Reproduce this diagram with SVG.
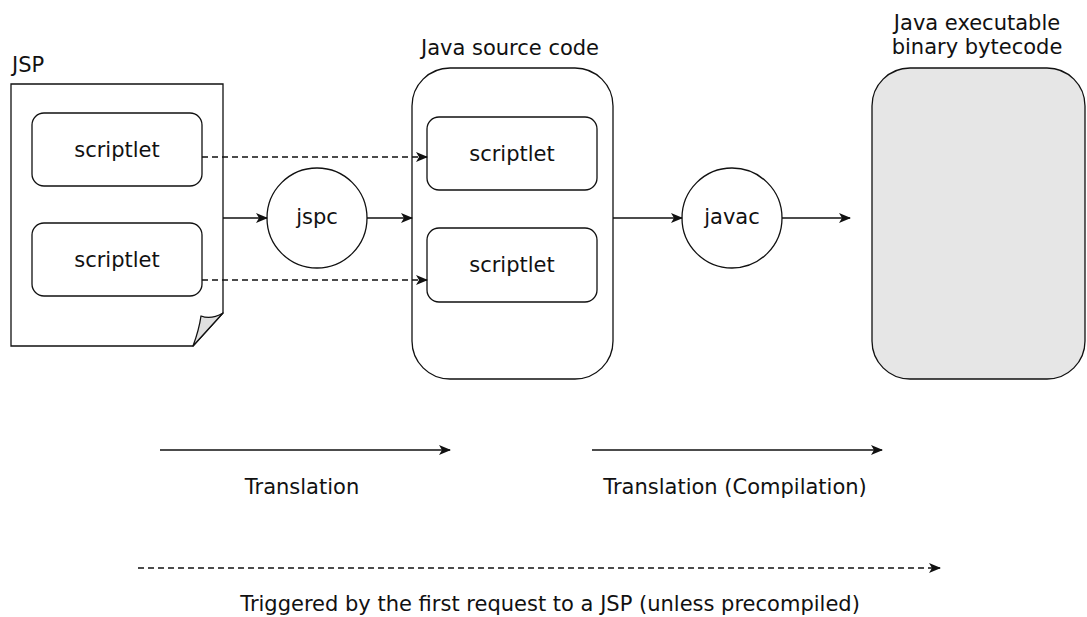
<svg xmlns="http://www.w3.org/2000/svg" width="1087" height="617" viewBox="0 0 1087 617">
<defs>
<style>
text{font-family:"DejaVu Sans","Liberation Sans",sans-serif;font-size:21px;fill:#111;}
.c{text-anchor:middle;}
.box{fill:#fff;stroke:#111;stroke-width:1.3;}
.ln{fill:none;stroke:#111;stroke-width:1.3;}
.dash{stroke-dasharray:6 4;}
</style>
<marker id="ah" viewBox="0 0 12 10" refX="11" refY="5" markerWidth="13" markerHeight="10" markerUnits="userSpaceOnUse" orient="auto">
<path d="M0,0 L12,5 L0,10 L3,5 Z" fill="#111"/>
</marker>
</defs>
<rect width="1087" height="617" fill="#fff"/>
<g id="jsp">
<text x="12" y="72">JSP</text>
<path class="box" d="M11,84 L223,84 L223,313 L193,346 L11,346 Z"/>
<path d="M223,313 Q211,320 201,316 Q199,330 193,346 Z" fill="#e0e0e0" stroke="#111" stroke-width="1.3" stroke-linejoin="round"/>
</g>
<g id="jsp-scriptlet1">
<rect class="box" x="32" y="113" width="170" height="73" rx="12"/>
<text class="c" x="117" y="157">scriptlet</text>
</g>
<g id="jsp-scriptlet2">
<rect class="box" x="32" y="223" width="170" height="73" rx="12"/>
<text class="c" x="117" y="267">scriptlet</text>
</g>
<g id="jspc">
<circle class="box" cx="317" cy="218" r="50"/>
<text class="c" x="317" y="224">jspc</text>
</g>
<g id="java-source">
<text class="c" x="510" y="55">Java source code</text>
<rect class="box" x="412" y="68" width="201" height="311" rx="38"/>
</g>
<g id="src-scriptlet1">
<rect class="box" x="427" y="117" width="170" height="73" rx="12"/>
<text class="c" x="512" y="161">scriptlet</text>
</g>
<g id="src-scriptlet2">
<rect class="box" x="427" y="228" width="170" height="74" rx="12"/>
<text class="c" x="512" y="272">scriptlet</text>
</g>
<g id="javac">
<circle class="box" cx="732" cy="218" r="50"/>
<text class="c" x="732" y="224">javac</text>
</g>
<g id="bytecode">
<text class="c" x="977" y="30">Java executable</text>
<text class="c" x="977" y="54">binary bytecode</text>
<rect x="872" y="68" width="213" height="311" rx="38" fill="#e6e6e6" stroke="#111" stroke-width="1.3"/>
</g>
<g id="connectors">
<line class="ln dash" x1="202" y1="157" x2="427" y2="157" marker-end="url(#ah)"/>
<line class="ln dash" x1="202" y1="280" x2="427" y2="280" marker-end="url(#ah)"/>
<line class="ln" x1="223" y1="218" x2="267" y2="218" marker-end="url(#ah)"/>
<line class="ln" x1="367" y1="218" x2="412" y2="218" marker-end="url(#ah)"/>
<line class="ln" x1="613" y1="218" x2="682" y2="218" marker-end="url(#ah)"/>
<line class="ln" x1="782" y1="218" x2="850" y2="218" marker-end="url(#ah)"/>
<line class="ln" x1="160" y1="450" x2="450" y2="450" marker-end="url(#ah)"/>
<line class="ln" x1="592" y1="450" x2="882" y2="450" marker-end="url(#ah)"/>
<line class="ln dash" x1="138" y1="568" x2="940" y2="568" marker-end="url(#ah)"/>
</g>
<g id="labels">
<text class="c" x="302" y="494">Translation</text>
<text class="c" x="735" y="494">Translation (Compilation)</text>
<text class="c" x="550" y="611">Triggered by the first request to a JSP (unless precompiled)</text>
</g>
</svg>
